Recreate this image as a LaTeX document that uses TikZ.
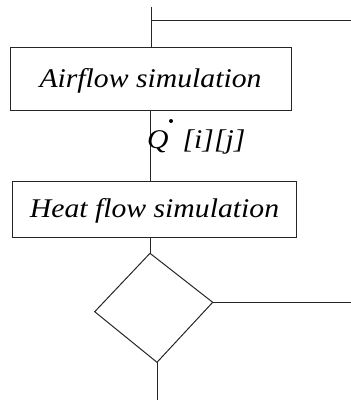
\documentclass[tikz,border=0pt]{standalone}
\usepackage{fontspec}
\usepackage{graphicx}
\setmainfont{Liberation Serif}
\tikzset{
  box/.style={draw=black!85, line width=1pt, inner sep=0pt, font=\fontsize{27}{31}\selectfont\itshape},
  conn/.style={draw=black!85, line width=1pt},
  lbl/.style={inner sep=0pt, font=\fontsize{27}{31}\selectfont\itshape}
}
\newcommand{\wide}[1]{\scalebox{1.1}[1]{#1}}
\begin{document}
\begin{tikzpicture}[x=1pt,y=-1pt]
\useasboundingbox (0,0) rectangle (351,400);
% top connectors
\coordinate (top) at (151.5,7);
\coordinate (junc) at (151.5,20);
\coordinate (topright) at (351,20);
\node[box, minimum width=281pt, minimum height=63pt, text height=17pt, text depth=0pt] (air) at (150.5,78.5) {\wide{Airflow simulation}};
\node[box, minimum width=284pt, minimum height=56pt, text height=15pt, text depth=0pt] (heat) at (154.5,209.5) {\wide{Heat flow simulation}};
\draw[conn] (top) -- (top |- air.north);
\draw[conn] (junc) -- (topright);
% between boxes
\draw[conn] (150.5,110) coordinate (a1) -- (150.5,181.5) coordinate (h1);
\node[lbl, anchor=base west] (qlbl) at (147,148) {\wide{Q}\hspace{14pt}\wide{[i][j]}};
\fill[black] (171,121) circle (2pt) coordinate (qdot);
% diamond
\coordinate (dt) at (150,253.3);
\coordinate (dr) at (212.7,302.3);
\coordinate (db) at (157,362.3);
\coordinate (dl) at (94.7,311.7);
\draw[conn] (dt) -- (dr) -- (db) -- (dl) -- cycle;
\draw[conn] (heat.south -| dt) -- (dt);
\coordinate (rightend) at (351,302.3);
\draw[conn] (dr) -- (rightend);
\coordinate (bottomend) at (157,400);
\draw[conn] (db) -- (bottomend);
\end{tikzpicture}
\end{document}
